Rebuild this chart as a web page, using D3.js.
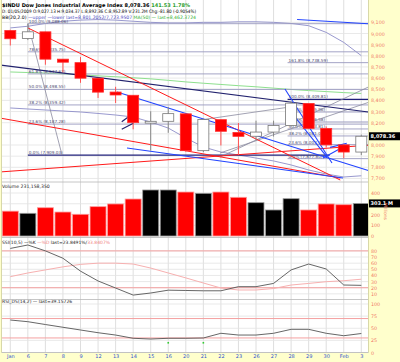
<!DOCTYPE html>
<html>
<head>
<meta charset="utf-8">
<script src="https://cdn.jsdelivr.net/npm/d3@7"></script>
<style>
  body { margin: 0; background: #ffffcc; }
  svg { display: block; }
  text { font-family: "DejaVu Sans", sans-serif; }
</style>
</head>
<body>
<div id="chart"></div>
<script>
// ---- data ----
var days   = ["Jan","6","7","8","9","12","13","14","15","16","20","21","22","23","26","27","28","29","30","Feb","3"];
var opens  = [9027.13,8954.57,9015.10,8769.94,8738.80,8599.26,8474.84,8446.01,8196.24,8212.49,8279.63,7949.17,8227.38,8113.10,8078.36,8116.11,8174.73,8373.06,8149.01,8000.62,7936.75];
var highs  = [9034.37,9088.06,9015.10,8770.02,8789.70,8602.60,8522.06,8446.01,8302.95,8341.14,8279.63,8235.42,8228.18,8197.16,8218.14,8218.14,8387.91,8373.06,8166.30,8006.76,8092.71];
var lows   = [8892.36,8940.95,8719.92,8651.19,8557.84,8421.85,8376.82,8140.73,7949.46,8109.36,7939.93,7936.00,7995.61,7909.03,8042.32,8075.64,8174.73,8143.42,7978.26,7882.35,7909.47];
var closes = [8952.89,9015.10,8769.70,8742.46,8599.18,8473.97,8448.56,8200.14,8212.49,8281.22,7949.09,8228.10,8122.80,8077.56,8116.03,8174.73,8375.45,8149.01,8000.86,7936.83,8078.36];
var prevClose = 9034.69;
var volumes = [231.2,211,263,223,202,273,298,344,428,428,409,397,409,360,310,242,347,242,298,291,303.1];

var bbUpper = [9050,9065,9090,9110,9120,9125,9120,9110,9100,9095,9095,9100,9100,9105,9105,9100,9090,9070,9010,8920,8801.21];
var bbLower = [8332,8323,8314,8305,8296,8283,8269,8251,8206,8152,8063,7982,7937,7910,7883,7857,7821,7776,7740,7713,7723.95];
var ma50    = [8655,8650,8645,8638,8630,8620,8612,8603,8593,8580,8566,8554,8543,8532,8522,8510,8498,8488,8479,8470,8462.37];

var ssiK = [84,89.6,80,68,47,31,19.5,8,11.4,16,15.5,15,15,21.7,21.7,27,49,58.6,50.5,24.4,23.85];
var ssiD = [38,44,49,54,58,60,60,58.6,52,44,36,27.7,19.5,16.3,16.3,18.7,24.4,27,29.8,31.4,33.84];
var rsi  = [67,63.5,57.7,52,46.4,40.8,36,29.3,27.8,29.3,29.3,29.9,39.6,36,36,39.6,47.8,47.8,39.6,34.6,39.16];
var rsiMarks = [[9,20],[11,20]];

var priceTicks = [9100,9000,8900,8800,8700,8600,8500,8400,8300,8200,8100,8000,7900,7800,7700];
var volTicks = [0,100,200,300,400];
var ssiTicks = [10,20,30,40,50,60,70,80];
var rsiTicks = [0,25,50,75,100];

// fibonacci retracements drawn on the chart: [start day, low, high]
var fib1 = [1, 7909.03, 9088.06];
var fib1Levels = [1, 0.786, 0.618, 0.5, 0.382, 0.236, 0];
var fib2 = [15.8, 7877.80, 8409.81];
var fib2Levels = [1.618, 1, 0.786, 0.618, 0.5, 0.382, 0.236, 0];

// hand drawn trend lines: [[day, price], [day, price]]
var redLines  = [[[1,9050],[18.8,7686]], [[-0.6,8242],[18.8,7704]], [[-0.6,7758],[20.4,7998]]];
var navyLines = [[[-0.6,8717],[20.4,8296]], [[6.35,8209],[7.01,8284]], [[6.35,8141],[7.01,8195]]];
var blueLines = [[[6.08,8475],[20.4,7772]], [[6.65,7973],[18.96,7704]], [[15.65,8502],[18.33,7839]],
                 [[15.77,8341],[18.05,7892]], [[18.22,7979],[19.17,8015]], [[17.82,7883],[19.17,8000]],
                 [[16.34,9125],[20.4,9088]]];
var grayLines = [[[11.95,7892],[20.4,8520]], [[11.95,7928],[20.4,8382]], [[10.81,8224],[15.94,8341]],
                 [[1,9088.06],[2.95,7909.03]]];

// ---- chart ----
var W = 400, H = 362;
var svg = d3.select("#chart").append("svg").attr("width", W).attr("height", H);

var x  = d3.scaleLinear().domain([0, 20]).range([10.3, 361.3]);
var y  = d3.scaleLinear().domain([7700, 9100]).range([178.45, 22.35]);
var yv = d3.scaleLinear().domain([0, 400]).range([236, 193]);
var ys = d3.scaleLinear().domain([0, 100]).range([300, 238.6]);
var yr = d3.scaleLinear().domain([0, 100]).range([352.5, 304]);

var plotL = 1.5, plotR = 368.5;
var panels = [[0, 182], [182, 237.5], [237.5, 299.5], [299.5, 352.5]];

svg.append("rect").attr("width", W).attr("height", H).attr("fill", "#ffffcc");
svg.append("rect").attr("x", plotL).attr("y", 0).attr("width", plotR - plotL).attr("height", 352.5).attr("fill", "#fff");

var defs = svg.append("defs");
panels.forEach(function(p, i) {
  defs.append("clipPath").attr("id", "clip" + i).append("rect")
    .attr("x", plotL).attr("y", p[0]).attr("width", plotR - plotL).attr("height", p[1] - p[0]);
});

var axisColor = "#f07a66", gridColor = "#e3e3e3";

// vertical grid
svg.append("g").selectAll("line").data(days).enter().append("line")
  .attr("x1", function(d, i) { return x(i); }).attr("x2", function(d, i) { return x(i); })
  .attr("y1", 0).attr("y2", 352.5)
  .attr("stroke", "#d6d6d6").attr("stroke-width", 0.8);

// horizontal grids
function hgrid(ticks, sc) {
  svg.append("g").selectAll("line").data(ticks).enter().append("line")
    .attr("x1", plotL).attr("x2", plotR)
    .attr("y1", function(d) { return sc(d); }).attr("y2", function(d) { return sc(d); })
    .attr("stroke", gridColor).attr("stroke-width", 0.8);
}
hgrid(priceTicks, y);
hgrid(volTicks, yv);
hgrid(ssiTicks, ys);
hgrid(rsiTicks, yr);

// ---- main price panel ----
var main = svg.append("g").attr("clip-path", "url(#clip0)");
var line = d3.line().x(function(d, i) { return x(i); });

main.append("path").datum(bbUpper).attr("fill", "none").attr("stroke", "#8c8cc8").attr("stroke-width", 0.9)
  .attr("d", line.y(function(d) { return y(d); }));
main.append("path").datum(bbLower).attr("fill", "none").attr("stroke", "#8c8cc8").attr("stroke-width", 0.9)
  .attr("d", line.y(function(d) { return y(d); }));
main.append("path").datum(ma50).attr("fill", "none").attr("stroke", "#8ee08e").attr("stroke-width", 1)
  .attr("d", line.y(function(d) { return y(d); }));

// fibonacci lines + labels
function drawFib(fib, levels, darkLevel, endDay) {
  levels.forEach(function(lv) {
    var p = fib[1] + lv * (fib[2] - fib[1]);
    var dark = lv === darkLevel;
    main.append("line")
      .attr("x1", x(fib[0])).attr("x2", x(lv === 0 && endDay ? endDay : 20.4))
      .attr("y1", y(p)).attr("y2", y(p))
      .attr("stroke", dark ? "#20207a" : "#9a9ac0").attr("stroke-width", dark ? 1.3 : 0.9);
    main.append("text").attr("x", x(fib[0]) + 1).attr("y", y(p) - 1)
      .attr("font-size", 4.2).attr("fill", "#4a4a70")
      .text((lv * 100).toFixed(1) + "% (" + d3.format(",.2f")(p) + ")");
  });
}
drawFib(fib1, fib1Levels, 0, 18.2);
drawFib(fib2, fib2Levels, 1, null);

function drawLines(list, color, w) {
  main.append("g").selectAll("line").data(list).enter().append("line")
    .attr("x1", function(d) { return x(d[0][0]); }).attr("y1", function(d) { return y(d[0][1]); })
    .attr("x2", function(d) { return x(d[1][0]); }).attr("y2", function(d) { return y(d[1][1]); })
    .attr("stroke", color).attr("stroke-width", w);
}
drawLines(grayLines, "#8a8aa0", 0.8);
drawLines(navyLines, "#22226e", 1.2);
drawLines(redLines, "#ff1a1a", 1);
drawLines(blueLines, "#2244ff", 1.1);

// candles
var candles = main.append("g").selectAll("g").data(closes).enter().append("g");
function isUp(i) { return closes[i] >= (i === 0 ? prevClose : closes[i - 1]); }
candles.append("line")
  .attr("x1", function(d, i) { return x(i); }).attr("x2", function(d, i) { return x(i); })
  .attr("y1", function(d, i) { return y(highs[i]); }).attr("y2", function(d, i) { return y(lows[i]); })
  .attr("stroke", function(d, i) { return isUp(i) ? "#888" : "#ff5050"; }).attr("stroke-width", 1);
candles.append("rect")
  .attr("x", function(d, i) { return x(i) - 5.5; }).attr("width", 11)
  .attr("y", function(d, i) { return y(Math.max(opens[i], closes[i])); })
  .attr("height", function(d, i) { return Math.max(1, Math.abs(y(opens[i]) - y(closes[i]))); })
  .attr("fill", function(d, i) { return closes[i] < opens[i] ? (isUp(i) ? "#000" : "#ff0000") : "#fff"; })
  .attr("stroke", function(d, i) { return closes[i] < opens[i] ? (isUp(i) ? "#000" : "#ff3030") : "#777"; })
  .attr("stroke-width", 0.8);

// header texts
var hdr = svg.append("g");
var t1 = hdr.append("text").attr("x", 2).attr("y", 7).attr("font-size", 5).attr("font-weight", "bold");
t1.append("tspan").attr("fill", "#000").text("$INDU Dow Jones Industrial Average Index ");
t1.append("tspan").attr("fill", "#000").text("8,078.36 ");
t1.append("tspan").attr("fill", "#30a030").text(" 141.53  1.78%");
t1.attr("textLength", 188).attr("lengthAdjust", "spacingAndGlyphs");
hdr.append("text").attr("x", 2).attr("y", 13).attr("font-size", 4.6).attr("fill", "#000")
  .attr("textLength", 194).attr("lengthAdjust", "spacingAndGlyphs")
  .text("D: 01/05/2009 O:9,027.13 H:9,034.37 L:8,892.36 C:8,952.89 V:231.2M Chg:-81.80 (-0.9054%)");
var t3 = hdr.append("text").attr("x", 2).attr("y", 18.5).attr("font-size", 4.6)
  .attr("textLength", 194).attr("lengthAdjust", "spacingAndGlyphs");
t3.append("tspan").attr("fill", "#000").text("BB(20,2.0) ");
t3.append("tspan").attr("fill", "#4a4ac0").text("\u2014upper \u2014lower last=8,801.2052/7,723.9507 ");
t3.append("tspan").attr("fill", "#30b030").text("MA(50) \u2014 last=8,462.3724");

// ---- volume panel ----
var vol = svg.append("g").attr("clip-path", "url(#clip1)");
vol.selectAll("rect").data(volumes).enter().append("rect")
  .attr("x", function(d, i) { return x(i) - 8; }).attr("width", 16)
  .attr("y", function(d) { return yv(d); }).attr("height", function(d) { return yv(0) - yv(d); })
  .attr("fill", function(d, i) { return isUp(i) ? "#000" : "#ff0000"; })
  .attr("stroke", function(d, i) { return isUp(i) ? "#999" : "#ff9a9a"; }).attr("stroke-width", 0.8);
svg.append("text").attr("x", 2).attr("y", 188).attr("font-size", 4.6).attr("fill", "#222")
  .text("Volume 231,158,350");

// ---- SSI panel ----
var ssi = svg.append("g").attr("clip-path", "url(#clip2)");
[80, 20].forEach(function(v) {
  ssi.append("line").attr("x1", plotL).attr("x2", plotR).attr("y1", ys(v)).attr("y2", ys(v))
    .attr("stroke", "#f4a0a0").attr("stroke-width", 1);
});
ssi.append("path").datum(ssiD).attr("fill", "none").attr("stroke", "#f7b0b0").attr("stroke-width", 1)
  .attr("d", line.y(function(d) { return ys(d); }));
ssi.append("path").datum(ssiK).attr("fill", "none").attr("stroke", "#555").attr("stroke-width", 0.9)
  .attr("d", line.y(function(d) { return ys(d); }));
var ts = svg.append("text").attr("x", 2).attr("y", 243.5).attr("font-size", 4.5);
ts.append("tspan").attr("fill", "#222").text("SSI(10,5) \u2014%K ");
ts.append("tspan").attr("fill", "#f08080").text("\u2014%D ");
ts.append("tspan").attr("fill", "#222").text("last=23.8491%/");
ts.append("tspan").attr("fill", "#f08080").text("33.8407%");

// ---- RSI panel ----
var rs = svg.append("g").attr("clip-path", "url(#clip3)");
[70, 30].forEach(function(v) {
  rs.append("line").attr("x1", plotL).attr("x2", plotR).attr("y1", yr(v)).attr("y2", yr(v))
    .attr("stroke", "#f4a0a0").attr("stroke-width", 1);
});
rs.append("path").datum(rsi).attr("fill", "none").attr("stroke", "#555").attr("stroke-width", 0.9)
  .attr("d", line.y(function(d) { return yr(d); }));
rs.selectAll("rect.mk").data(rsiMarks).enter().append("rect")
  .attr("x", function(d) { return x(d[0]) - 0.8; }).attr("y", function(d) { return yr(d[1]) - 0.8; })
  .attr("width", 1.6).attr("height", 1.6).attr("fill", "#33cc33");
svg.append("text").attr("x", 2).attr("y", 302.5).attr("font-size", 4.5).attr("fill", "#222")
  .text("RSI_DS(14,2) \u2014 last=39.15726");

// panel borders
panels.forEach(function(p) {
  svg.append("line").attr("x1", plotL).attr("x2", plotR).attr("y1", p[1]).attr("y2", p[1])
    .attr("stroke", "#b8b8b8").attr("stroke-width", 0.8);
});
svg.append("line").attr("x1", plotR).attr("x2", plotR).attr("y1", 0).attr("y2", 352.5)
  .attr("stroke", "#d8d8a8").attr("stroke-width", 1);
svg.append("line").attr("x1", plotL).attr("x2", plotL).attr("y1", 0).attr("y2", 352.5)
  .attr("stroke", "#d8d8a8").attr("stroke-width", 1);

// ---- right axes ----
function rightAxis(sc, ticks, fmt, skip) {
  var ax = d3.axisRight(sc).tickValues(ticks.filter(function(t) { return skip.indexOf(t) < 0; }))
    .tickSize(0).tickPadding(2.5).tickFormat(fmt);
  var g = svg.append("g").attr("transform", "translate(" + plotR + ",0)").call(ax);
  g.select(".domain").remove();
  g.selectAll("text").attr("fill", axisColor).attr("font-size", 4.8)
    .attr("font-family", "DejaVu Sans, sans-serif");
}
rightAxis(y, priceTicks, d3.format(","), [8100]);
rightAxis(yv, volTicks, d3.format("d"), [300]);
rightAxis(ys, ssiTicks, d3.format("d"), []);
rightAxis(yr, rsiTicks, d3.format("d"), []);

function valueBox(yy, label) {
  svg.append("rect").attr("x", plotR + 0.5).attr("y", yy - 4).attr("width", W - plotR).attr("height", 8).attr("fill", "#000");
  svg.append("text").attr("x", plotR + 2).attr("y", yy + 2).attr("font-size", 5).attr("font-weight", "bold")
    .attr("fill", "#fff").text(label);
}
valueBox(y(closes[20]), "8,078.36");
valueBox(yv(volumes[20]), "303.1 M");

svg.append("text").attr("transform", "translate(384,203) rotate(90)")
  .attr("font-size", 4.5).attr("fill", axisColor).text("Millions");

// ---- bottom date axis ----
var xa = d3.axisBottom(x).tickValues(d3.range(days.length)).tickSize(0).tickPadding(2)
  .tickFormat(function(i) { return days[i]; });
var xg = svg.append("g").attr("transform", "translate(0,352.5)").call(xa);
xg.select(".domain").remove();
xg.selectAll("text").attr("fill", "#3355cc").attr("font-size", 5)
  .attr("font-family", "DejaVu Sans, sans-serif");
</script>
</body>
</html>
